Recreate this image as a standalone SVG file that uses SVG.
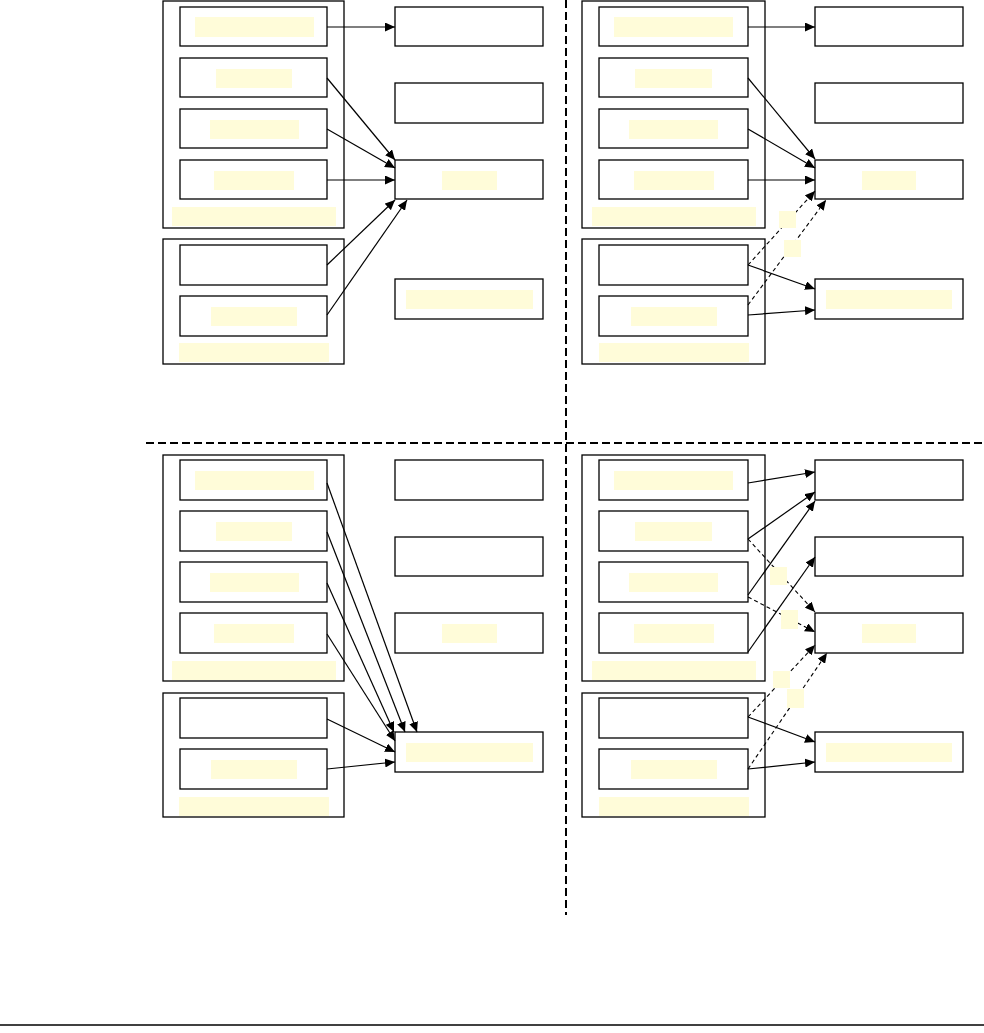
<svg xmlns="http://www.w3.org/2000/svg" width="984" height="1033" viewBox="0 0 984 1033">
<defs>
<style>
.box{fill:#fff;stroke:#000;stroke-width:1.3}
.grp{fill:none;stroke:#000;stroke-width:1.3}
.lbl{fill:#FFFCD9;stroke:none}
.c{fill:none;stroke:#000;stroke-width:1.2;marker-end:url(#ah)}
.d{fill:none;stroke:#000;stroke-width:1.1;stroke-dasharray:4 3;marker-end:url(#ah)}
.sep{fill:none;stroke:#000;stroke-width:2;stroke-dasharray:8 4}
</style>
<marker id="ah" markerUnits="userSpaceOnUse" markerWidth="10" markerHeight="9" refX="10" refY="4.5" orient="auto">
<path d="M0,0 L10,4.5 L0,9 z" fill="#000"/>
</marker>
</defs>
<rect width="984" height="1033" fill="#fff"/>
<g id="separators">
<line class="sep" x1="566" y1="0" x2="566" y2="915"/>
<line class="sep" x1="146" y1="443" x2="984" y2="443"/>
<line x1="0" y1="1025" x2="984" y2="1025" stroke="#000" stroke-width="1.5"/>
</g>

<!-- Top-left quadrant -->
<g id="tl-groupA"><rect class="grp" x="163" y="1" width="181" height="227"/></g>
<g id="tl-groupB"><rect class="grp" x="163" y="239" width="181" height="125"/></g>
<g id="tl-a1"><rect class="box" x="180" y="7" width="147" height="39"/></g>
<g id="tl-a2"><rect class="box" x="180" y="58" width="147" height="39"/></g>
<g id="tl-a3"><rect class="box" x="180" y="109" width="147" height="39"/></g>
<g id="tl-a4"><rect class="box" x="180" y="160" width="147" height="39"/></g>
<g id="tl-b1"><rect class="box" x="180" y="245" width="147" height="40"/></g>
<g id="tl-b2"><rect class="box" x="180" y="296" width="147" height="40"/></g>
<g id="tl-r1"><rect class="box" x="395" y="7" width="148" height="39"/></g>
<g id="tl-r2"><rect class="box" x="395" y="83" width="148" height="40"/></g>
<g id="tl-r3"><rect class="box" x="395" y="160" width="148" height="39"/></g>
<g id="tl-r4"><rect class="box" x="395" y="279" width="148" height="40"/></g>

<!-- Top-right quadrant -->
<g id="tr-groupA"><rect class="grp" x="582" y="1" width="183" height="227"/></g>
<g id="tr-groupB"><rect class="grp" x="582" y="239" width="183" height="125"/></g>
<g id="tr-a1"><rect class="box" x="599" y="7" width="149" height="39"/></g>
<g id="tr-a2"><rect class="box" x="599" y="58" width="149" height="39"/></g>
<g id="tr-a3"><rect class="box" x="599" y="109" width="149" height="39"/></g>
<g id="tr-a4"><rect class="box" x="599" y="160" width="149" height="39"/></g>
<g id="tr-b1"><rect class="box" x="599" y="245" width="149" height="40"/></g>
<g id="tr-b2"><rect class="box" x="599" y="296" width="149" height="40"/></g>
<g id="tr-r1"><rect class="box" x="815" y="7" width="148" height="39"/></g>
<g id="tr-r2"><rect class="box" x="815" y="83" width="148" height="40"/></g>
<g id="tr-r3"><rect class="box" x="815" y="160" width="148" height="39"/></g>
<g id="tr-r4"><rect class="box" x="815" y="279" width="148" height="40"/></g>

<!-- Bottom-left quadrant -->
<g id="bl-groupA"><rect class="grp" x="163" y="455" width="181" height="226"/></g>
<g id="bl-groupB"><rect class="grp" x="163" y="693" width="181" height="124"/></g>
<g id="bl-a1"><rect class="box" x="180" y="460" width="147" height="40"/></g>
<g id="bl-a2"><rect class="box" x="180" y="511" width="147" height="40"/></g>
<g id="bl-a3"><rect class="box" x="180" y="562" width="147" height="40"/></g>
<g id="bl-a4"><rect class="box" x="180" y="613" width="147" height="40"/></g>
<g id="bl-b1"><rect class="box" x="180" y="698" width="147" height="40"/></g>
<g id="bl-b2"><rect class="box" x="180" y="749" width="147" height="40"/></g>
<g id="bl-r1"><rect class="box" x="395" y="460" width="148" height="40"/></g>
<g id="bl-r2"><rect class="box" x="395" y="537" width="148" height="39"/></g>
<g id="bl-r3"><rect class="box" x="395" y="613" width="148" height="40"/></g>
<g id="bl-r4"><rect class="box" x="395" y="732" width="148" height="40"/></g>

<!-- Bottom-right quadrant -->
<g id="br-groupA"><rect class="grp" x="582" y="455" width="183" height="226"/></g>
<g id="br-groupB"><rect class="grp" x="582" y="693" width="183" height="124"/></g>
<g id="br-a1"><rect class="box" x="599" y="460" width="149" height="40"/></g>
<g id="br-a2"><rect class="box" x="599" y="511" width="149" height="40"/></g>
<g id="br-a3"><rect class="box" x="599" y="562" width="149" height="40"/></g>
<g id="br-a4"><rect class="box" x="599" y="613" width="149" height="40"/></g>
<g id="br-b1"><rect class="box" x="599" y="698" width="149" height="40"/></g>
<g id="br-b2"><rect class="box" x="599" y="749" width="149" height="40"/></g>
<g id="br-r1"><rect class="box" x="815" y="460" width="148" height="40"/></g>
<g id="br-r2"><rect class="box" x="815" y="537" width="148" height="39"/></g>
<g id="br-r3"><rect class="box" x="815" y="613" width="148" height="40"/></g>
<g id="br-r4"><rect class="box" x="815" y="732" width="148" height="40"/></g>

<g id="connectors">
<!-- TL -->
<line class="c" x1="327" y1="27" x2="395" y2="27"/>
<line class="c" x1="327" y1="78" x2="395" y2="160"/>
<line class="c" x1="327" y1="129" x2="395" y2="168"/>
<line class="c" x1="327" y1="180" x2="395" y2="180"/>
<line class="c" x1="327" y1="265" x2="395" y2="200"/>
<line class="c" x1="327" y1="315" x2="407" y2="200"/>
<!-- TR -->
<line class="c" x1="748" y1="27" x2="815" y2="27"/>
<line class="c" x1="748" y1="78" x2="815" y2="159"/>
<line class="c" x1="748" y1="129" x2="815" y2="168"/>
<line class="c" x1="748" y1="180" x2="815" y2="180"/>
<line class="d" x1="748" y1="265" x2="815" y2="191"/>
<line class="d" x1="748" y1="305" x2="826" y2="200"/>
<line class="c" x1="748" y1="265" x2="815" y2="289"/>
<line class="c" x1="748" y1="315" x2="815" y2="310"/>
<!-- BL -->
<line class="c" x1="327" y1="483" x2="417" y2="732"/>
<line class="c" x1="327" y1="532" x2="405" y2="732"/>
<line class="c" x1="327" y1="583" x2="394" y2="732"/>
<line class="c" x1="327" y1="634" x2="395" y2="741"/>
<line class="c" x1="327" y1="719" x2="395" y2="752"/>
<line class="c" x1="327" y1="769" x2="395" y2="762"/>
<!-- BR -->
<line class="c" x1="748" y1="483" x2="815" y2="472"/>
<line class="c" x1="748" y1="539" x2="815" y2="492"/>
<line class="c" x1="748" y1="595" x2="815" y2="501"/>
<line class="c" x1="748" y1="652" x2="815" y2="557"/>
<line class="d" x1="748" y1="539" x2="815" y2="612"/>
<line class="d" x1="748" y1="597" x2="815" y2="632"/>
<line class="d" x1="748" y1="717" x2="815" y2="645"/>
<line class="d" x1="748" y1="769" x2="827" y2="653"/>
<line class="c" x1="748" y1="717" x2="815" y2="742"/>
<line class="c" x1="748" y1="769" x2="815" y2="762"/>
</g>

<g id="labels">
<!-- TL -->
<rect class="lbl" x="195" y="17" width="119" height="20"/>
<rect class="lbl" x="216" y="69" width="76" height="19"/>
<rect class="lbl" x="210" y="120" width="89" height="19"/>
<rect class="lbl" x="214" y="171" width="80" height="19"/>
<rect class="lbl" x="172" y="207" width="164" height="19"/>
<rect class="lbl" x="211" y="307" width="86" height="19"/>
<rect class="lbl" x="179" y="343" width="150" height="19"/>
<rect class="lbl" x="442" y="171" width="55" height="19"/>
<rect class="lbl" x="406" y="290" width="127" height="19"/>
<!-- TR -->
<rect class="lbl" x="614" y="17" width="119" height="20"/>
<rect class="lbl" x="635" y="69" width="77" height="19"/>
<rect class="lbl" x="629" y="120" width="89" height="19"/>
<rect class="lbl" x="634" y="171" width="80" height="19"/>
<rect class="lbl" x="592" y="207" width="164" height="19"/>
<rect class="lbl" x="631" y="307" width="86" height="19"/>
<rect class="lbl" x="599" y="343" width="150" height="19"/>
<rect class="lbl" x="862" y="171" width="54" height="19"/>
<rect class="lbl" x="826" y="290" width="126" height="19"/>
<rect class="lbl" x="779" y="211" width="17" height="17"/>
<rect class="lbl" x="784" y="240" width="17" height="17"/>
<!-- BL -->
<rect class="lbl" x="195" y="471" width="119" height="19"/>
<rect class="lbl" x="216" y="522" width="76" height="19"/>
<rect class="lbl" x="210" y="573" width="89" height="19"/>
<rect class="lbl" x="214" y="624" width="80" height="19"/>
<rect class="lbl" x="172" y="661" width="164" height="19"/>
<rect class="lbl" x="211" y="760" width="86" height="19"/>
<rect class="lbl" x="179" y="797" width="150" height="19"/>
<rect class="lbl" x="442" y="624" width="55" height="19"/>
<rect class="lbl" x="406" y="743" width="127" height="19"/>
<!-- BR -->
<rect class="lbl" x="614" y="471" width="119" height="19"/>
<rect class="lbl" x="635" y="522" width="77" height="19"/>
<rect class="lbl" x="629" y="573" width="89" height="19"/>
<rect class="lbl" x="634" y="624" width="80" height="19"/>
<rect class="lbl" x="592" y="661" width="164" height="19"/>
<rect class="lbl" x="631" y="760" width="86" height="19"/>
<rect class="lbl" x="599" y="797" width="150" height="19"/>
<rect class="lbl" x="862" y="624" width="54" height="19"/>
<rect class="lbl" x="826" y="743" width="126" height="19"/>
<rect class="lbl" x="770" y="567" width="17" height="18"/>
<rect class="lbl" x="781" y="610" width="17" height="19"/>
<rect class="lbl" x="773" y="671" width="17" height="17"/>
<rect class="lbl" x="787" y="689" width="17" height="19"/>
</g>
</svg>
